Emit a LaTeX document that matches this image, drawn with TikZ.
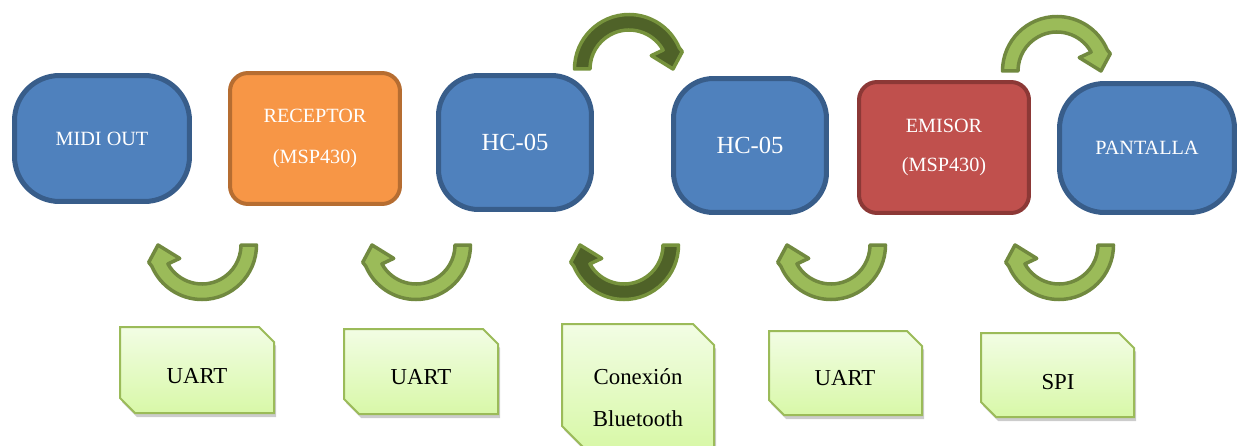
\documentclass[tikz,border=0pt]{standalone}
\usepackage{fontspec}
\setmainfont{Liberation Serif}
\definecolor{bluefill}{HTML}{4F81BD}
\definecolor{blueline}{HTML}{385D8A}
\definecolor{orangefill}{HTML}{F79646}
\definecolor{orangeline}{HTML}{B66D31}
\definecolor{redfill}{HTML}{C0504D}
\definecolor{redline}{HTML}{8C3836}
\definecolor{arrowfill}{HTML}{9BBB59}
\definecolor{arrowline}{HTML}{71893F}
\definecolor{darkarrowfill}{HTML}{4F6228}
\definecolor{darkarrowline}{HTML}{76923C}
\definecolor{notetop}{HTML}{F2FDE4}
\definecolor{notebottom}{HTML}{D8F8A8}
\definecolor{noteline}{HTML}{9BBB59}
\newcommand\bendarrow[4]{%
  \begin{scope}[shift={(#1,#2)}, rotate=#3]
    \path[#4] (0:54.5) arc[start angle=0, end angle=-157, radius=54.5]
      -- (198:56) -- (180:44) -- (211:26) -- (209:39)
      arc[start angle=209, end angle=360, radius=39] -- cycle;
  \end{scope}}
\newcommand\notebox[5]{%
  \path[noteshadow] (#1+2,-#2-4) -- (#3-#5+2,-#2-4) -- (#3+2,-#2-#5-4) -- (#3+2,-#4-4) -- (#1+#5+2,-#4-4) -- (#1+2,-#4+#5-4) -- cycle;
  \path[noteshape] (#1,-#2) -- (#3-#5,-#2) -- (#3,-#2-#5) -- (#3,-#4) -- (#1+#5,-#4) -- (#1,-#4+#5) -- cycle;}
\begin{document}
\begin{tikzpicture}[x=0.02cm, y=0.02cm,
  block/.style={line width=0.1cm, text=white, align=center, inner sep=0pt},
  bluebox/.style={block, fill=bluefill, draw=blueline},
  mcubox/.style={block, line width=0.08cm, rounded corners=0.36cm, minimum width=3.4cm, minimum height=2.62cm, font=\fontsize{11.5}{23.8}\selectfont},
  lightarrow/.style={fill=arrowfill, draw=arrowline, line width=0.07cm, line join=round},
  darkarrow/.style={fill=darkarrowfill, draw=darkarrowline, line width=0.07cm, line join=round},
  notetext/.style={font=\fontsize{13}{23.8}\selectfont, align=center, text=black, inner sep=0pt},
  noteshape/.style={top color=notetop, bottom color=notebottom, draw=noteline, line width=0.04cm},
  noteshadow/.style={fill=black, opacity=0.2},
]
\useasboundingbox (0,0) rectangle (1237,-446);
\fill[white] (0,0) rectangle (1237,-446);

% main blocks
\node[bluebox, rounded corners=0.9cm, minimum width=3.5cm, minimum height=2.52cm, font=\fontsize{11.5}{14}\selectfont] (midi) at (102,-138.5) {MIDI OUT};
\node[mcubox, fill=orangefill, draw=orangeline] (rx) at (315,-138.5) {RECEPTOR\\(MSP430)};
\node[bluebox, rounded corners=0.8cm, minimum width=3.06cm, minimum height=2.68cm, font=\fontsize{14}{17}\selectfont] (bt1) at (515,-142.5) {HC-05};
\node[bluebox, rounded corners=0.8cm, minimum width=3.06cm, minimum height=2.68cm, font=\fontsize{14}{17}\selectfont] (bt2) at (750,-145.5) {HC-05};
\node[mcubox, fill=redfill, draw=redline, font=\fontsize{11.5}{22.7}\selectfont] (tx) at (944,-147.5) {EMISOR\\(MSP430)};
\node[bluebox, rounded corners=0.9cm, minimum width=3.5cm, minimum height=2.58cm, font=\fontsize{11.5}{14}\selectfont] (lcd) at (1147,-148) {PANTALLA};

% curved arrows
\bendarrow{629}{-69}{180}{darkarrow}
\bendarrow{1057}{-71}{180}{lightarrow}
\bendarrow{202}{-245}{0}{lightarrow}
\bendarrow{416}{-245}{0}{lightarrow}
\bendarrow{624}{-245}{0}{darkarrow}
\bendarrow{831}{-245}{0}{lightarrow}
\bendarrow{1059}{-245}{0}{lightarrow}

% interface notes
\notebox{120}{327}{274}{413}{15}
\node[notetext] (n1) at (197,-376) {UART};
\notebox{344}{329}{498}{414}{15}
\node[notetext] (n2) at (421,-377) {UART};
\notebox{562}{324}{714}{447}{21}
\node[notetext] (n3) at (638,-398) {Conexión\\Bluetooth};
\notebox{769}{331}{922}{415}{15}
\node[notetext] (n4) at (845,-378) {UART};
\notebox{981}{333}{1134}{417}{15}
\node[notetext] (n5) at (1058,-382) {SPI};
\end{tikzpicture}
\end{document}
